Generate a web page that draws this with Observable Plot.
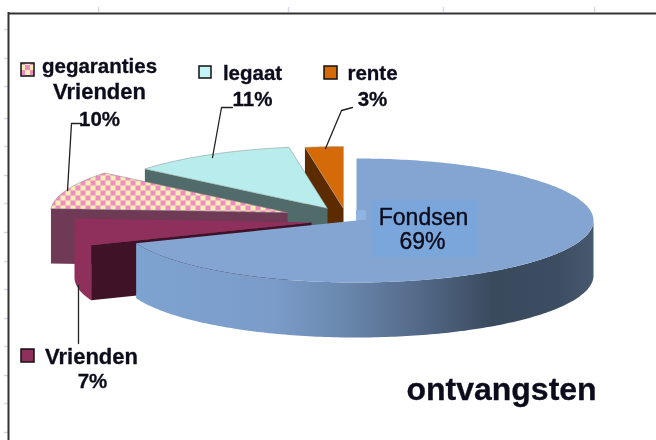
<!DOCTYPE html>
<html>
<head>
<meta charset="utf-8">
<script src="https://cdn.jsdelivr.net/npm/d3@7"></script>
<script src="https://cdn.jsdelivr.net/npm/@observablehq/plot@0.6"></script>
<style>
html,body{margin:0;padding:0;background:#fff;overflow:hidden}
svg{display:block;filter:blur(0.35px)}
</style>
</head>
<body>
<div id="chart"></div>
<script>
// ---- data ----
const categories = ["Fondsen", "Vrienden", "gegaranties Vrienden", "legaat", "rente"];
const shares = [69, 7, 10, 11.4, 2.6];
const shareLabels = ["69%", "7%", "10%", "11%", "3%"];
const title = "ontvangsten";

// ---- pie layout ----
const W = 656, H = 440;
const centre = {x: 356, y: 220}, rx = 237, ry = 62, depth = 55;
const offsetX = [0, -45, -69, -29, -13];
const offsetY = [0, 2, -8, -12, -12];
const topColors = ["#84a5d2", "#8f2f5c", "url(#checker)", "#b9ecec", "#d46a08"];
const faceColors = ["url(#wall)", "#3f1228", "#6e3a55", "#516b6a", "#5c2c00"];
const wallColor = "#8f2f5c";

let acc = 0;
const slices = categories.map((name, i) => {
  const start = acc * 3.6; acc += shares[i];
  return {name, i, start, end: acc * 3.6,
    c: {x: centre.x + offsetX[i], y: centre.y + offsetY[i]}};
});
const at = (c, deg, dz = 0) => {
  const a = deg * Math.PI / 180;
  return {x: c.x + rx * Math.sin(a), y: c.y - ry * Math.cos(a) + dz};
};
const arc = (c, a0, a1, dz = 0) => {
  const n = Math.max(2, Math.ceil(Math.abs(a1 - a0)));
  return d3.range(n + 1).map(k => at(c, a0 + (a1 - a0) * k / n, dz));
};
const down = (p) => ({x: p.x, y: p.y + depth});
const topFace = s => [s.c, ...arc(s.c, s.start, s.end), s.c];
const poly = (pts, fill, stroke = "none", strokeWidth = 0.5) =>
  Plot.line(pts, {x: "x", y: "y", curve: "linear", fill, stroke, strokeWidth});

const [fondsen, vrienden, garantie, legaat, rente] = slices;
const cutFace = (s, deg) => {
  const o = at(s.c, deg);
  return [s.c, o, down(o), down(s.c), s.c];
};

const marks = [];
// back to front
marks.push(poly(cutFace(rente, rente.start), faceColors[4]));
marks.push(poly(topFace(rente), topColors[4], "#a8a090"));
marks.push(poly(cutFace(legaat, legaat.start), faceColors[3]));
marks.push(poly(topFace(legaat), topColors[3], "#7d8f8f"));
marks.push(poly(cutFace(garantie, garantie.start), faceColors[2]));
marks.push(poly(topFace(garantie), topColors[2], "#8a7a80"));
marks.push(poly(cutFace(vrienden, vrienden.start), faceColors[1]));
marks.push(poly([...arc(vrienden.c, vrienden.start, 270), ...arc(vrienden.c, 270, vrienden.start, depth)], wallColor));
marks.push(poly(topFace(vrienden), topColors[1]));
marks.push(poly([...arc(centre, 90, fondsen.end), ...arc(centre, fondsen.end, 90, depth)], faceColors[0]));
marks.push(poly(topFace({...fondsen, c: centre}), topColors[0]));

// ---- frame and stray ticks ----
const topTicks = [98, 288, 443, 594];
const leftTicks = [29, 58, 86, 118, 146, 175, 203, 232, 261, 289, 318, 346, 375, 403, 432];
const frame = [
  Plot.ruleX(topTicks, {x: d => d, y1: 7, y2: 12, stroke: "#d5d8ec", strokeWidth: 1.5}),
  Plot.ruleY(leftTicks, {y: d => d, x1: 4, x2: 8, stroke: "#d5d8ec", strokeWidth: 1.5}),
  Plot.ruleY([13], {x1: 8, x2: W, stroke: "#333", strokeWidth: 2}),
  Plot.ruleX([8], {y1: 12, y2: H, stroke: "#333", strokeWidth: 2})
];

// ---- label panels, leaders, keys, texts ----
const panels = [
  Plot.rect([0], {x1: 356, x2: 366, y1: 210, y2: 220, fill: "#8fb4e2"}),
  Plot.rect([0], {x1: 371, x2: 477, y1: 200, y2: 257, fill: "#7ba6dc"})
];
const leaders = [
  [{x: 81, y: 123}, {x: 71, y: 123}, {x: 67, y: 190}],
  [{x: 232, y: 107}, {x: 221, y: 107}, {x: 212, y: 157}],
  [{x: 352, y: 107}, {x: 341, y: 110}, {x: 325, y: 148}],
  [{x: 78, y: 285}, {x: 78, y: 343}]
].map(pts => Plot.line(pts, {x: "x", y: "y", curve: "linear", stroke: "#222", strokeWidth: 1.3}));
const keys = [
  {x: 21, y: 63, w: 13, fill: topColors[2]},
  {x: 199, y: 66, w: 12, fill: "#c4f4f4"},
  {x: 324, y: 66, w: 13, fill: topColors[4]},
  {x: 21, y: 349, w: 13, fill: topColors[1]}
].map(k => Plot.rect([k], {x1: d => d.x, x2: d => d.x + d.w, y1: d => d.y, y2: d => d.y + d.w,
  fill: k.fill, stroke: "#111", strokeWidth: 1.5}));

const label = (text, x, baseline, fontSize = 20.5, fontWeight = "bold", thicken = 0.3) =>
  Plot.text([text], {text: d => d, x: () => x, y: () => baseline - 0.32 * fontSize,
    fontSize, fontWeight, fontFamily: "'Liberation Sans', Arial, sans-serif",
    fill: "#0c0c1c", stroke: "#0c0c1c", strokeWidth: thicken,
    textAnchor: "middle", lineAnchor: "middle"});
const labels = [
  label("gegaranties", 99, 72),
  label("Vrienden", 99, 98, 22),
  label(shareLabels[2], 99, 125),
  label(categories[3], 252, 79),
  label(shareLabels[3], 252, 105),
  label(categories[4], 372, 79),
  label(shareLabels[4], 372, 105),
  label(categories[1], 91, 363, 22),
  label(shareLabels[1], 92, 387.5),
  label(categories[0], 423, 224, 23, "normal", 0.4),
  label(shareLabels[0], 422, 248, 23, "normal", 0.4),
  label(title, 501, 399, 32)
];

const plot = Plot.plot({
  width: W, height: H, margin: 0,
  x: {domain: [0, W], range: [0, W], axis: null},
  y: {domain: [0, H], range: [0, H], axis: null},
  marks: [...frame, ...marks, ...panels, ...leaders, ...keys, ...labels]
});

const defs = document.createElementNS("http://www.w3.org/2000/svg", "defs");
defs.innerHTML = `
<linearGradient id="wall" x1="0" x2="1" y1="0" y2="0">
  <stop offset="0" stop-color="#7ea3d1"/><stop offset="0.3" stop-color="#7b9cc9"/>
  <stop offset="0.45" stop-color="#6a88ae"/><stop offset="0.6" stop-color="#566d8d"/>
  <stop offset="0.78" stop-color="#3a4a5d"/><stop offset="0.92" stop-color="#3d4d61"/>
  <stop offset="1" stop-color="#47596f"/>
</linearGradient>
<pattern id="checker" width="10" height="10" patternUnits="userSpaceOnUse">
  <rect width="10" height="10" fill="#f6eeb2"/>
  <rect width="5" height="5" fill="#ee8cc4"/><rect x="5" y="5" width="5" height="5" fill="#ee8cc4"/>
</pattern>`;
plot.insertBefore(defs, plot.firstChild);
document.getElementById("chart").append(plot);
</script>
</body>
</html>
